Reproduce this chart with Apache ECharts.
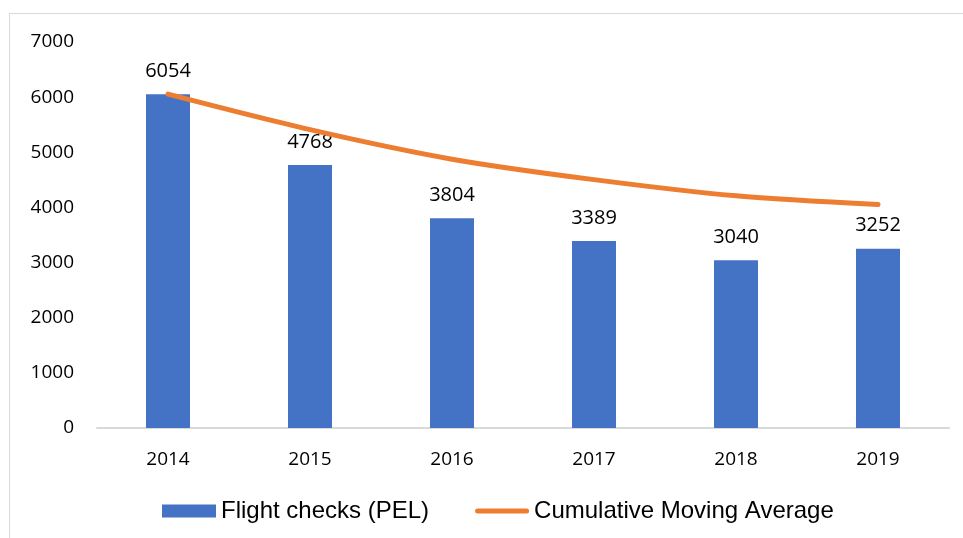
<!DOCTYPE html>
<html>
<head>
    <meta charset="utf-8" />
    <title>Flight checks</title>
    <style>
        html, body { margin: 0; padding: 0; background: #fff; }
        #frame { position: absolute; left: 9px; top: 13px; width: 1000px; height: 600px; border: 1px solid #d9d9d9; }
        #main { position: absolute; left: 0; top: 0; width: 963px; height: 538px; }
    </style>
</head>
<body>
<script src="https://cdn.jsdelivr.net/npm/echarts@6.0.0/dist/echarts.min.js"></script>
<div id="frame"></div>
<div id="main"></div>
<script type="text/javascript">
    // data
    var years = ['2014', '2015', '2016', '2017', '2018', '2019'];
    var flightChecks = [6054, 4768, 3804, 3389, 3040, 3252];
    var movingAverage = [6054, 5411, 4875, 4504, 4211, 4051];

    var numFont = 'Open Sans';
    var myChart = echarts.init(document.getElementById('main'));

    var option = {
        animation: false,
        grid: { left: 97, right: 14, top: 42, bottom: 110 },
        legend: {
            bottom: 10,
            left: 157,
            itemGap: 46,
            itemWidth: 54,
            itemHeight: 13,
            textStyle: { fontFamily: 'Liberation Sans', fontSize: 24, color: '#000' },
            data: [
                { name: 'Flight checks (PEL)', icon: 'rect' },
                {
                    name: 'Cumulative Moving Average',
                    // flat rounded bar so the line key looks like a thick stroke
                    icon: 'path://M2.5,0 L51.5,0 A2.5,2.5 0 0 1 51.5,5 L2.5,5 A2.5,2.5 0 0 1 2.5,0 Z'
                }
            ]
        },
        xAxis: {
            type: 'category',
            data: years,
            axisLine: { lineStyle: { color: '#d9d9d9', width: 2 } },
            axisTick: { show: false },
            axisLabel: { fontFamily: numFont, fontSize: 19, color: '#000', margin: 22 }
        },
        yAxis: {
            type: 'value',
            min: 0,
            max: 7000,
            interval: 1000,
            splitLine: { show: false },
            axisLine: { show: false },
            axisTick: { show: false },
            axisLabel: {
                fontFamily: numFont, fontSize: 19, color: '#000', margin: 23,
                formatter: function (v) { return String(v); }
            }
        },
        series: [
            {
                name: 'Flight checks (PEL)',
                type: 'bar',
                data: flightChecks,
                barWidth: 44,
                itemStyle: { color: '#4472C4' },
                label: {
                    show: true,
                    position: 'top',
                    distance: 13,
                    fontFamily: numFont,
                    fontSize: 20,
                    color: '#000'
                }
            },
            {
                name: 'Cumulative Moving Average',
                type: 'line',
                data: movingAverage,
                smooth: 0.3,
                showSymbol: false,
                symbol: 'none',
                lineStyle: { color: '#ED7D31', width: 5, cap: 'round' },
                itemStyle: { color: '#ED7D31' }
            }
        ]
    };

    myChart.setOption(option);
</script>
</body>
</html>
